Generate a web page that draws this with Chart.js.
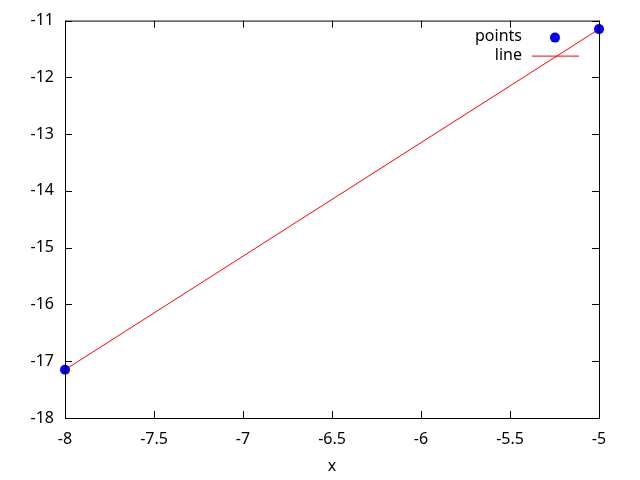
<!DOCTYPE html>
<html>
<head>
<meta charset="utf-8">
<script src="https://cdn.jsdelivr.net/npm/chart.js@4"></script>
<style>
  html, body { margin: 0; padding: 0; background: #fff; }
  #wrap { width: 640px; height: 480px; }
</style>
</head>
<body>
<div id="wrap"><canvas id="chart" width="640" height="480"></canvas></div>
<script>
// data
const pointX = [-8, -5];
const pointY = [-17.15, -11.15];
const lineX = [-8, -5];
const lineY = [-17.15, -11.15];
const seriesNames = ["points", "line"];
const xRange = [-8, -5];
const yRange = [-18, -11];

const FONT = "Noto Sans";
const FSIZE = 16;

// gnuplot-ish inner ticks on all four sides + legend in top right
const gnuplotLook = {
  id: "gnuplotLook",
  afterDraw(chart) {
    const ctx = chart.ctx;
    const a = chart.chartArea;
    const xs = chart.scales.x, ys = chart.scales.y;
    const len = 7;
    ctx.save();
    ctx.strokeStyle = "#000";
    ctx.lineWidth = 1;
    ctx.beginPath();
    xs.ticks.forEach((t) => {
      const px = Math.round(xs.getPixelForValue(t.value)) + 0.5;
      ctx.moveTo(px, a.bottom); ctx.lineTo(px, a.bottom - len);
      ctx.moveTo(px, a.top); ctx.lineTo(px, a.top + len);
    });
    ys.ticks.forEach((t) => {
      const py = Math.round(ys.getPixelForValue(t.value)) + 0.5;
      ctx.moveTo(a.left, py); ctx.lineTo(a.left + len, py);
      ctx.moveTo(a.right, py); ctx.lineTo(a.right - len, py);
    });
    ctx.stroke();
    ctx.strokeRect(a.left + 0.5, a.top + 0.5, a.right - a.left, a.bottom - a.top);

    // legend
    ctx.font = FSIZE + "px " + FONT;
    ctx.fillStyle = "#000";
    ctx.textAlign = "right";
    ctx.textBaseline = "middle";
    const textRight = a.right - 77;
    const y1 = a.top + 16, y2 = a.top + 35;
    ctx.fillText(seriesNames[0], textRight, y1);
    ctx.fillText(seriesNames[1], textRight, y2);
    ctx.fillStyle = "#0000ff";
    ctx.beginPath();
    ctx.arc(a.right - 44, y1 + 1, 5, 0, Math.PI * 2);
    ctx.fill();
    ctx.strokeStyle = "#ff0000";
    ctx.beginPath();
    ctx.moveTo(a.right - 67, y2 + 0.5);
    ctx.lineTo(a.right - 20, y2 + 0.5);
    ctx.stroke();
    ctx.restore();
  }
};

new Chart(document.getElementById("chart"), {
  type: "scatter",
  data: {
    datasets: [
      {
        label: seriesNames[1],
        data: lineX.map((x, i) => ({ x: x, y: lineY[i] })),
        showLine: true,
        borderColor: "#ff0000",
        borderWidth: 1,
        pointRadius: 0,
        clip: false,
        order: 2,
      },
      {
        label: seriesNames[0],
        data: pointX.map((x, i) => ({ x: x, y: pointY[i] })),
        showLine: false,
        backgroundColor: "#0000ff",
        borderColor: "#0000ff",
        pointRadius: 5,
        borderWidth: 0,
        clip: false,
        order: 1,
      },
    ],
  },
  options: {
    responsive: false,
    animation: false,
    layout: { padding: { top: 18, right: 41, left: 0, bottom: 0 } },
    plugins: { legend: { display: false }, tooltip: { enabled: false } },
    scales: {
      x: {
        type: "linear",
        min: xRange[0],
        max: xRange[1],
        grid: { display: false, drawTicks: false },
        border: { display: false },
        ticks: {
          stepSize: 0.5, color: "#000", padding: 12,
          font: { family: FONT, size: FSIZE },
          callback: (v) => String(v),
        },
        title: { display: true, text: "x", color: "#000", font: { family: FONT, size: FSIZE }, padding: { top: 4 } },
        afterFit(s) { s.height = 62; },
      },
      y: {
        type: "linear",
        min: yRange[0],
        max: yRange[1],
        grid: { display: false, drawTicks: false },
        border: { display: false },
        ticks: {
          stepSize: 1, color: "#000", padding: 11,
          font: { family: FONT, size: FSIZE },
          callback: (v) => String(v),
        },
        afterFit(s) { s.width = 65; },
      },
    },
  },
  plugins: [gnuplotLook],
});
</script>
</body>
</html>
